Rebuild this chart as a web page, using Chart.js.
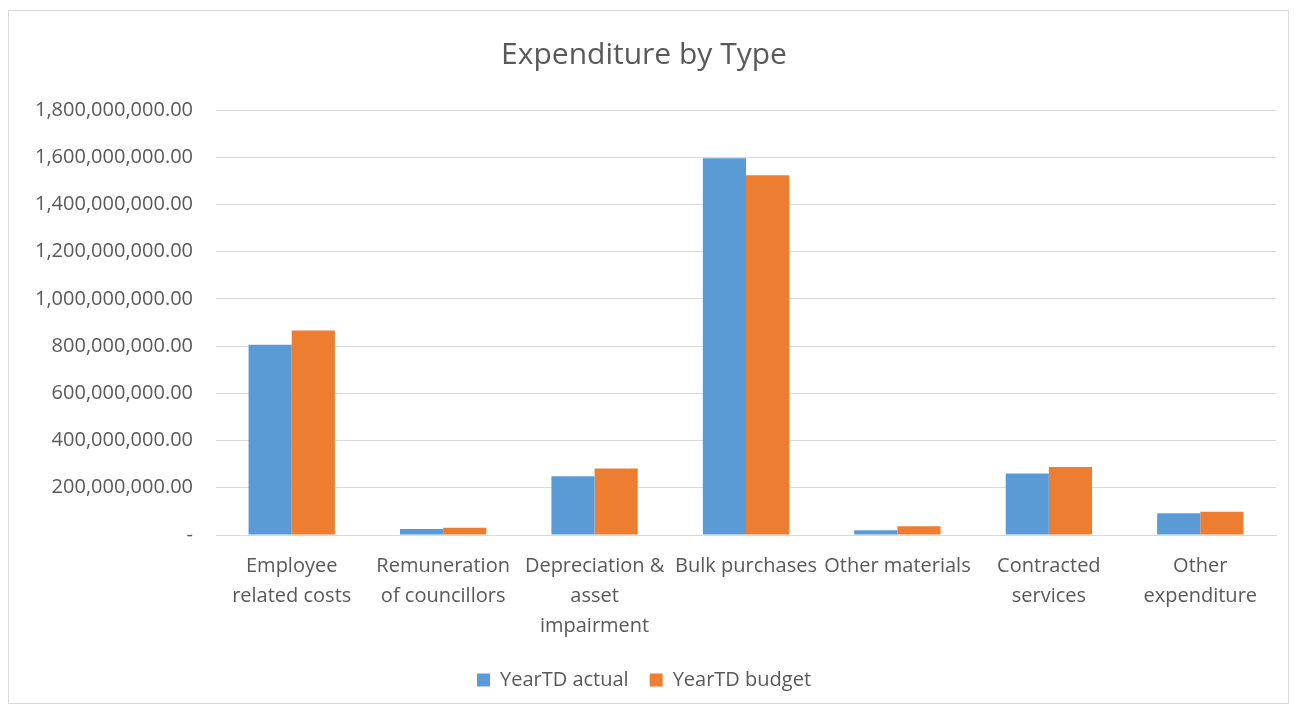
<!DOCTYPE html>
<html>
<head>
<meta charset="utf-8">
<script src="https://cdn.jsdelivr.net/npm/chart.js@4"></script>
<style>
  html, body { margin: 0; padding: 0; background: #fff; }
  #frame {
    position: absolute; left: 8px; top: 10px; width: 1281px; height: 694px;
    border: 1px solid #d9d9d9; box-sizing: border-box;
  }
  #wrap { position: absolute; left: 0; top: 0; width: 1294px; height: 711px; }
</style>
</head>
<body>
<div id="frame"></div>
<div id="wrap"><canvas id="chart"></canvas></div>
<script>
const categories = [
  ["Employee", "related costs"],
  ["Remuneration", "of councillors"],
  ["Depreciation &", "asset", "impairment"],
  "Bulk purchases",
  "Other materials",
  ["Contracted", "services"],
  ["Other", "expenditure"]
];
const actualValues = [806000000, 25000000, 249000000, 1596000000, 20000000, 260000000, 92000000];
const budgetValues = [866000000, 31000000, 282000000, 1524000000, 37000000, 288000000, 98000000];
const seriesNames = ["YearTD actual", "YearTD budget"];

const textColor = "#595959";
const fontFamily = "'Open Sans', 'Liberation Sans', sans-serif";

function formatTick(value) {
  if (value === 0) return "-";
  return value.toLocaleString("en-US", { minimumFractionDigits: 2, maximumFractionDigits: 2 });
}

new Chart(document.getElementById("chart"), {
  type: "bar",
  data: {
    labels: categories,
    datasets: [
      { label: seriesNames[0], data: actualValues, backgroundColor: "#5b9bd5", barPercentage: 1, categoryPercentage: 0.57 },
      { label: seriesNames[1], data: budgetValues, backgroundColor: "#ed7d31", barPercentage: 1, categoryPercentage: 0.57 }
    ]
  },
  options: {
    responsive: true,
    maintainAspectRatio: false,
    animation: false,
    layout: { padding: { left: 12, right: 18, top: 37, bottom: 11 } },
    plugins: {
      title: {
        display: true,
        text: "Expenditure by Type",
        color: textColor,
        font: { family: fontFamily, size: 30, weight: "normal" },
        padding: { top: 0, bottom: 37 }
      },
      legend: {
        position: "bottom",
        labels: {
          color: textColor,
          font: { family: fontFamily, size: 20 },
          boxWidth: 13, boxHeight: 13,
          padding: 21
        }
      },
      tooltip: { enabled: false }
    },
    scales: {
      x: {
        grid: { display: false },
        border: { color: "#d9d9d9" },
        ticks: { color: textColor, font: { family: fontFamily, size: 20, lineHeight: 1.5 }, maxRotation: 0, autoSkip: false, padding: 8 }
      },
      y: {
        min: 0, max: 1800000000,
        grid: { color: "#d9d9d9", drawTicks: false },
        border: { display: false },
        ticks: { stepSize: 200000000, color: textColor, font: { family: fontFamily, size: 20 }, padding: 23, callback: formatTick }
      }
    }
  }
});
</script>
</body>
</html>
